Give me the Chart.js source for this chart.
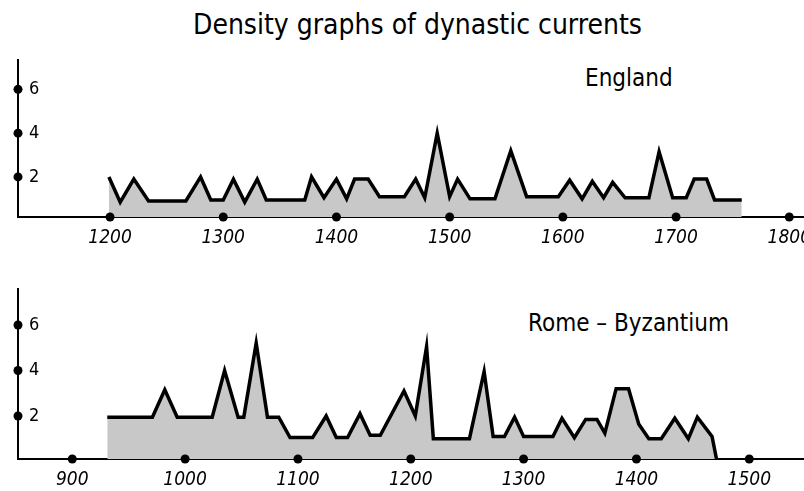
<!DOCTYPE html>
<html>
<head>
<meta charset="utf-8">
<script src="https://cdn.jsdelivr.net/npm/chart.js@4.4.1/dist/chart.umd.min.js"></script>
<style>
  body { margin: 0; background: #fff; width: 804px; height: 491px; overflow: hidden; position: relative;
         font-family: 'DejaVu Sans Condensed', 'Liberation Sans Narrow', sans-serif; }
  .txt { position: absolute; white-space: nowrap; color: #000; line-height: 1; }
  canvas { position: absolute; left: 0; }
</style>
</head>
<body>
<div class="txt" style="left:193px; top:11px; font-size:28px;">Density graphs of dynastic currents</div>
<div class="txt" style="left:585px; top:66px; font-size:24px;">England</div>
<div class="txt" style="left:528px; top:311px; font-size:24px;">Rome – Byzantium</div>
<canvas id="haut" width="804" height="255" style="top:0"></canvas>
<canvas id="bas" width="804" height="236" style="top:255px"></canvas>
<script>
// donnees

const anneesAngleterre = [1199, 1209, 1221, 1234, 1267, 1280, 1289, 1300, 1309, 1319, 1330, 1338, 1372, 1378,
  1389, 1400, 1409, 1416, 1428, 1438, 1460, 1470, 1478, 1489, 1500, 1507, 1518, 1540, 1554, 1568, 1596,
  1606, 1617, 1626, 1636, 1644, 1655, 1676, 1685, 1697, 1709, 1716, 1727, 1734, 1758];
const densiteAngleterre = [2.0, 0.85, 1.9, 0.9, 0.9, 2.0, 0.95, 0.95, 1.9, 0.85, 1.9, 0.95, 0.95, 2.0,
  1.05, 1.9, 1.0, 1.9, 1.9, 1.1, 1.1, 1.9, 1.05, 4.0, 1.1, 1.9, 1.0, 1.0, 3.2, 1.1, 1.1,
  1.85, 1.0, 1.8, 1.05, 1.75, 1.05, 1.05, 3.15, 1.05, 1.05, 1.9, 1.9, 0.95, 0.95];

const anneesRome = [931, 971, 982, 993, 1024, 1035, 1047, 1052, 1063, 1073, 1083, 1093, 1113, 1125, 1134,
  1144, 1155, 1164, 1173, 1194, 1204, 1214, 1220, 1252, 1265, 1273, 1283, 1292, 1300, 1326, 1334, 1345,
  1355, 1365, 1372, 1382, 1393, 1402, 1411, 1422, 1434, 1446, 1454, 1467, 1471];
const densiteRome = [1.95, 1.95, 3.15, 1.95, 1.95, 4.0, 1.95, 1.95, 5.2, 1.95, 1.95, 1.05, 1.05, 2.0, 1.05,
  1.05, 2.1, 1.15, 1.15, 3.1, 2.0, 5.05, 1.0, 1.0, 3.95, 1.1, 1.1, 1.95, 1.1, 1.1, 1.9, 1.05,
  1.85, 1.85, 1.25, 3.2, 3.2, 1.65, 1.0, 1.0, 1.9, 1.0, 1.95, 1.1, 0.1];

const ticksAngleterre = [1200, 1300, 1400, 1500, 1600, 1700, 1800];
const ticksRome = [900, 1000, 1100, 1200, 1300, 1400, 1500];
const ticksDensite = [2, 4, 6];

const police = "'DejaVu Sans Condensed', 'Liberation Sans Narrow', sans-serif";

// petits points noirs sur les axes
const pointsAxes = {
  id: 'pointsAxes',
  afterDraw(chart) {
    const { ctx, scales: { x, y } } = chart;
    ctx.save();
    ctx.fillStyle = '#000';
    x.ticks.forEach(t => {
      ctx.beginPath();
      ctx.arc(x.getPixelForValue(t.value), y.bottom, 4.5, 0, Math.PI * 2);
      ctx.fill();
    });
    y.ticks.forEach(t => {
      ctx.beginPath();
      ctx.arc(x.left, y.getPixelForValue(t.value), 4.5, 0, Math.PI * 2);
      ctx.fill();
    });
    ctx.restore();
  }
};

function graphe(id, annees, valeurs, ticksX, xmin, xmax, ymin, ymax, haut, hautAxe) {
  return new Chart(document.getElementById(id), {
    type: 'line',
    data: {
      datasets: [{
        data: annees.map((a, i) => ({ x: a, y: valeurs[i] })),
        borderColor: '#000',
        borderWidth: 3.5,
        backgroundColor: '#c8c8c8',
        fill: 'start',
        pointRadius: 0,
        tension: 0
      }]
    },
    options: {
      responsive: false,
      animation: false,
      events: [],
      layout: { autoPadding: false, padding: { top: haut, left: 18, right: 0, bottom: 0 } },
      plugins: { legend: { display: false }, tooltip: { enabled: false } },
      scales: {
        x: {
          type: 'linear',
          min: xmin,
          max: xmax,
          afterBuildTicks: s => { s.ticks = ticksX.map(v => ({ value: v })); },
          afterFit: s => { s.height = hautAxe; s.paddingLeft = 0; s.paddingRight = 0; },
          grid: { display: false, drawTicks: false },
          border: { display: true, color: '#000', width: 2 },
          ticks: {
            autoSkip: false, maxRotation: 0, padding: 10, color: '#000',
            font: { family: police, size: 19, style: 'italic' },
            callback: v => String(v)
          }
        },
        y: {
          type: 'linear',
          min: ymin,
          max: ymax,
          afterBuildTicks: s => { s.ticks = ticksDensite.map(v => ({ value: v })); },
          afterFit: s => { s.width = 0; s.paddingTop = 0; s.paddingBottom = 0; },
          grid: { display: false, drawTicks: false },
          border: { display: true, color: '#000', width: 2 },
          ticks: {
            mirror: true, padding: 11, color: '#000',
            font: { family: police, size: 18 },
            callback: v => String(v)
          }
        }
      }
    },
    plugins: [pointsAxes]
  });
}

graphe('haut', anneesAngleterre, densiteAngleterre, ticksAngleterre, 1118.7, 1813, 0.17, 7.34, 60, 38);
graphe('bas', anneesRome, densiteRome, ticksRome, 851.9, 1548.5, 0.11, 7.58, 34, 32);
</script>
</body>
</html>
